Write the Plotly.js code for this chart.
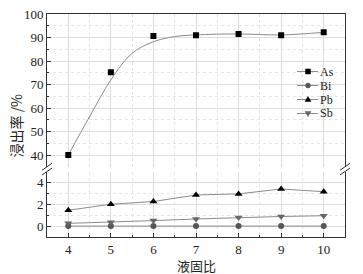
<!DOCTYPE html>
<html><head><meta charset="utf-8">
<script src="https://cdn.plot.ly/plotly-3.0.1.min.js"></script>
<style>html,body{margin:0;padding:0;background:#fff}#c{width:363px;height:274px}</style>
</head><body><div id="c"></div>
<script>
const ratio = [4, 5, 6, 7, 8, 9, 10];
const asVals = [40, 75.2, 90.6, 91.0, 91.5, 91.0, 92.2];
const biVals = [0, 0, 0, 0, 0, 0, 0];
const pbVals = [1.45, 2.0, 2.25, 2.85, 2.95, 3.4, 3.15];
const sbVals = [0.25, 0.35, 0.5, 0.65, 0.78, 0.88, 0.95];
const asFitX = [4, 4.5, 5, 5.5, 6, 6.5, 7, 8, 9, 10];
const asFitY = [40, 56.3, 72, 83.3, 88.2, 90.4, 91.1, 91.5, 91.1, 92.2];
const xTicks = [4, 5, 6, 7, 8, 9, 10];
const upperTicks = [40, 50, 60, 70, 80, 90, 100];
const lowerTicks = [0, 2, 4];
const seriesNames = ['As', 'Bi', 'Pb', 'Sb'];

const serif = 'Liberation Serif, Times New Roman, serif';
const cjk = 'Noto Sans CJK SC, sans-serif';
const ink = '#222';
const lineGray = '#8c8c8c';
const styles = {
  As: {symbol: 'square', size: 6, color: '#000'},
  Bi: {symbol: 'circle', size: 6, color: '#555'},
  Pb: {symbol: 'triangle-up', size: 7, color: '#000'},
  Sb: {symbol: 'triangle-down', size: 7, color: '#666'}
};

const traces = [
  {x: asFitX, y: asFitY, xaxis: 'x2', yaxis: 'y2', mode: 'lines', line: {color: lineGray, width: 1, shape: 'spline', smoothing: 1}, hoverinfo: 'skip'},
  {x: ratio, y: asVals, xaxis: 'x2', yaxis: 'y2', name: 'As', mode: 'markers', marker: styles.As},
  {x: ratio, y: biVals, name: 'Bi', mode: 'lines+markers', line: {color: lineGray, width: 1}, marker: styles.Bi},
  {x: ratio, y: pbVals, name: 'Pb', mode: 'lines+markers', line: {color: lineGray, width: 1}, marker: styles.Pb},
  {x: ratio, y: sbVals, name: 'Sb', mode: 'lines+markers', line: {color: lineGray, width: 1}, marker: styles.Sb}
];

const L = 47, R = 345, T = 14, B = 237, H = B - T, W = R - L;
const py = p => (B - p) / H;
const px = p => (p - L) / W;
const gridMajor = '#dddddd';
const gridMinor = '#e6e6e6';

const common = {
  showline: true, linecolor: '#333', linewidth: 1,
  ticks: 'inside', ticklen: 4, tickcolor: '#333', tickwidth: 1,
  showgrid: true, gridcolor: gridMajor, gridwidth: 1, zeroline: false,
  tickfont: {family: serif, size: 13, color: ink}
};

const breakLine = (x, y) => ({type: 'line', xref: 'paper', yref: 'paper',
  x0: px(x - 5), y0: py(y + 3.5), x1: px(x + 5), y1: py(y - 3.5),
  line: {color: '#333', width: 1}});

// hand-drawn legend (keeps the compact row spacing of the original)
const legX0 = 297, legX1 = 318, legMX = 308, legTextX = 319, legY0 = 71.5, legDY = 14;
const legendShapes = [];
const legendTexts = [];
const pt = (x, y) => px(x) + ',' + py(y);
seriesNames.forEach((n, i) => {
  const y = legY0 + i * legDY;
  const s = styles[n];
  legendShapes.push({type: 'line', xref: 'paper', yref: 'paper', x0: px(legX0), x1: px(legX1), y0: py(y), y1: py(y), line: {color: lineGray, width: 1}});
  const h = 2.5;
  let sh;
  if (s.symbol === 'square') {
    sh = {type: 'rect', x0: px(legMX - h), x1: px(legMX + h), y0: py(y + h), y1: py(y - h)};
  } else if (s.symbol === 'circle') {
    sh = {type: 'circle', x0: px(legMX - h), x1: px(legMX + h), y0: py(y + h), y1: py(y - h)};
  } else if (s.symbol === 'triangle-up') {
    sh = {type: 'path', path: 'M' + pt(legMX - 3, y + 2) + 'L' + pt(legMX + 3, y + 2) + 'L' + pt(legMX, y - 3) + 'Z'};
  } else {
    sh = {type: 'path', path: 'M' + pt(legMX - 3, y - 2) + 'L' + pt(legMX + 3, y - 2) + 'L' + pt(legMX, y + 3) + 'Z'};
  }
  Object.assign(sh, {xref: 'paper', yref: 'paper', fillcolor: s.color, line: {color: s.color, width: 0.5}});
  legendShapes.push(sh);
  legendTexts.push({text: n, xref: 'paper', yref: 'paper', x: px(legTextX), y: py(y), xanchor: 'left', yanchor: 'middle',
    borderpad: 0, showarrow: false, font: {family: serif, size: 12, color: ink}});
});

const layout = {
  width: 363, height: 274,
  margin: {l: L, r: 363 - R, t: T, b: 274 - B, pad: 0},
  paper_bgcolor: '#fff', plot_bgcolor: '#fff',
  showlegend: false,
  xaxis: Object.assign({}, common, {anchor: 'y', domain: [0, 1], range: [3.5, 10.5], tickvals: xTicks,
    minor: {dtick: 0.5, ticks: 'inside', ticklen: 2, tickcolor: '#333', showgrid: true, gridcolor: gridMinor, griddash: 'dot'}}),
  xaxis2: Object.assign({}, common, {anchor: 'y2', matches: 'x', side: 'top', range: [3.5, 10.5], tickvals: xTicks, ticks: '', showticklabels: false,
    minor: {dtick: 0.5, showgrid: true, gridcolor: gridMinor, griddash: 'dot'}}),
  yaxis: Object.assign({}, common, {domain: [0, py(171.5)], range: [-1, 5], tickvals: lowerTicks, mirror: true,
    minor: {tickvals: [-1, 1, 3, 5], ticks: 'inside', ticklen: 2, tickcolor: '#333', showgrid: true, gridcolor: gridMinor, griddash: 'dot'}}),
  yaxis2: Object.assign({}, common, {domain: [py(166.75), 1], range: [35, 100], tickvals: upperTicks, mirror: true, anchor: 'x2',
    minor: {dtick: 5, tick0: 35, ticks: 'inside', ticklen: 2, tickcolor: '#333', showgrid: true, gridcolor: gridMinor, griddash: 'dot'}}),
  annotations: [
    {text: '浸出率 /%', xref: 'paper', yref: 'paper', x: px(15), y: 0.5, textangle: -90, showarrow: false,
      xanchor: 'center', yanchor: 'middle', font: {family: cjk, size: 14, color: ink}},
    {text: '液固比', xref: 'paper', yref: 'paper', x: 0.5, y: py(265), showarrow: false,
      xanchor: 'center', yanchor: 'middle', font: {family: cjk, size: 13, color: ink}}
  ].concat(legendTexts),
  shapes: [breakLine(L, 166.75), breakLine(L, 171.5), breakLine(R, 166.75), breakLine(R, 171.5)].concat(legendShapes)
};

Plotly.newPlot('c', traces, layout, {displayModeBar: false, staticPlot: true});
</script></body></html>
